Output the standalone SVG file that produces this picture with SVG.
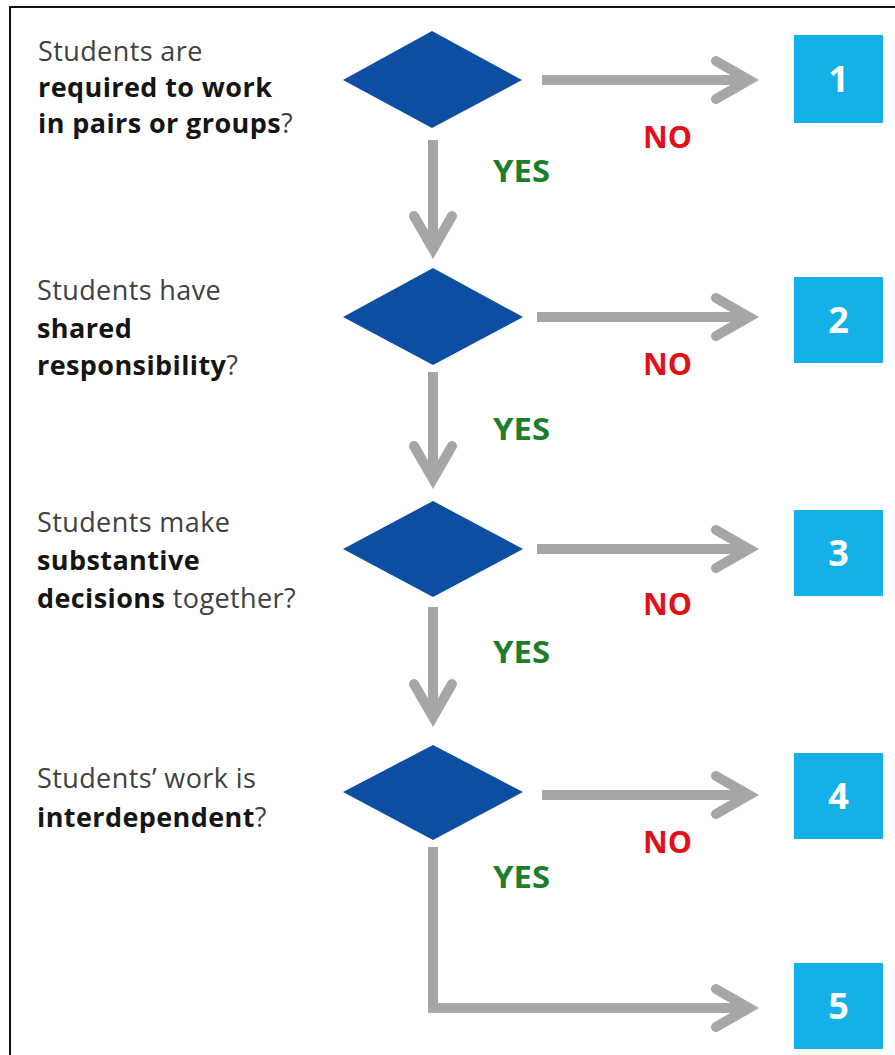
<svg xmlns="http://www.w3.org/2000/svg" width="895" height="1055" viewBox="0 0 895 1055">
  <style>
    .q { font-family: "Open Sans", "Noto Sans", "Liberation Sans", sans-serif; font-size: 27px; letter-spacing: 0.4px; fill: #404040; }
    .b { font-weight: bold; fill: #151515; }
    .dia { fill: #0B4EA2; }
    .box { fill: #14B0E8; }
    .num { font-family: "Open Sans", "Liberation Sans", sans-serif; font-weight: bold; font-size: 36px; fill: #ffffff; text-anchor: middle; }
    .yes { font-family: "Open Sans", "Liberation Sans", sans-serif; font-weight: bold; font-size: 31px; fill: #1E7D2A; }
    .no { font-family: "Open Sans", "Liberation Sans", sans-serif; font-weight: bold; font-size: 30px; fill: #E3101B; }
    .conn { fill: none; stroke: #A6A6A6; stroke-width: 10; marker-end: url(#chev); }
  </style>
  <defs>
    <marker id="chev" markerUnits="userSpaceOnUse" viewBox="-50 -30 70 60" refX="0" refY="0" markerWidth="70" markerHeight="60" orient="auto">
      <path d="M -33 -19 L 0 0 L -33 19" fill="none" stroke="#A6A6A6" stroke-width="10" stroke-linejoin="miter" stroke-linecap="round"/>
    </marker>
  </defs>
  <rect width="895" height="1055" fill="#ffffff"/>
  <path d="M 10 1055 V 7 H 895" fill="none" stroke="#111" stroke-width="2"/>

  <g id="connectors">
    <path class="conn" d="M 542 80 H 749"/>
    <path class="conn" d="M 433 140 V 249"/>
    <path class="conn" d="M 537 317 H 749"/>
    <path class="conn" d="M 433 372 V 479"/>
    <path class="conn" d="M 537 549 H 749"/>
    <path class="conn" d="M 433 607 V 717"/>
    <path class="conn" d="M 542 795 H 749"/>
    <path class="conn" d="M 433 847 V 1008 H 749"/>
    <text class="no" x="643" y="148" textLength="49" lengthAdjust="spacingAndGlyphs">NO</text>
    <text class="yes" x="493" y="182" textLength="57" lengthAdjust="spacingAndGlyphs">YES</text>
    <text class="no" x="643" y="375" textLength="49" lengthAdjust="spacingAndGlyphs">NO</text>
    <text class="yes" x="493" y="440" textLength="57" lengthAdjust="spacingAndGlyphs">YES</text>
    <text class="no" x="643" y="615" textLength="49" lengthAdjust="spacingAndGlyphs">NO</text>
    <text class="yes" x="493" y="663" textLength="57" lengthAdjust="spacingAndGlyphs">YES</text>
    <text class="no" x="643" y="853" textLength="49" lengthAdjust="spacingAndGlyphs">NO</text>
    <text class="yes" x="493" y="888" textLength="57" lengthAdjust="spacingAndGlyphs">YES</text>
  </g>

  <g id="q1">
    <text class="q" x="38" y="61">Students are</text>
    <text class="q b" x="38" y="97">required to work</text>
    <text class="q" x="38" y="133"><tspan class="b">in pairs or groups</tspan>?</text>
    <polygon class="dia" points="432,31 522,80 432,128 343,80"/>
  </g>
  <g id="q2">
    <text class="q" x="37" y="300">Students have</text>
    <text class="q b" x="37" y="338">shared</text>
    <text class="q" x="37" y="375"><tspan class="b">responsibility</tspan>?</text>
    <polygon class="dia" points="433,268 523,317 433,365 343,317"/>
  </g>
  <g id="q3">
    <text class="q" x="37" y="532">Students make</text>
    <text class="q b" x="37" y="570">substantive</text>
    <text class="q" x="37" y="608"><tspan class="b">decisions</tspan> together?</text>
    <polygon class="dia" points="433,501 523,549 433,597 343,549"/>
  </g>
  <g id="q4">
    <text class="q" x="37" y="788">Students’ work is</text>
    <text class="q" x="37" y="827"><tspan class="b">interdependent</tspan>?</text>
    <polygon class="dia" points="433,745 523,792 433,840 343,792"/>
  </g>

  <g id="out1"><rect class="box" x="794" y="35" width="89" height="88"/><text class="num" x="838.5" y="92">1</text></g>
  <g id="out2"><rect class="box" x="794" y="277" width="89" height="86"/><text class="num" x="838.5" y="333">2</text></g>
  <g id="out3"><rect class="box" x="794" y="510" width="89" height="86"/><text class="num" x="838.5" y="566">3</text></g>
  <g id="out4"><rect class="box" x="794" y="753" width="89" height="86"/><text class="num" x="838.5" y="809">4</text></g>
  <g id="out5"><rect class="box" x="794" y="963" width="89" height="86"/><text class="num" x="838.5" y="1019">5</text></g>
</svg>
